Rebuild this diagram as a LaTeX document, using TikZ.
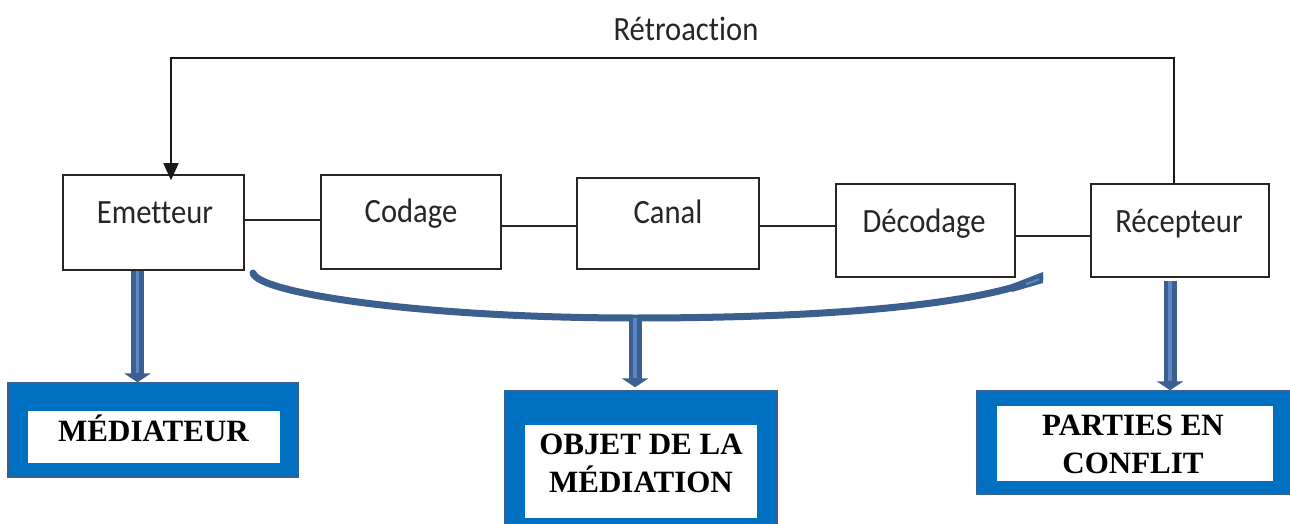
\documentclass[tikz,border=0pt]{standalone}
\usepackage{fontspec}
\newfontfamily\cali[FakeStretch=0.9,Ligatures=NoCommon]{Carlito}
\newfontfamily\tnr{Liberation Serif}
\usetikzlibrary{arrows.meta,calc}
\definecolor{bdark}{HTML}{3B5F8F}
\definecolor{blight}{HTML}{5A88C2}
\definecolor{bfill}{HTML}{0070C0}
\newcommand\bluearr[2]{%
  \draw[line width=13pt, bdark] (#1) -- ($(#2)+(0,-8)$);
  \draw[line width=3.5pt, blight] (#1) -- ($(#2)+(0,-9)$);
  \fill[bdark] ($(#2)+(-13.5,-9)$) -- ($(#2)+(13.5,-9)$) -- (#2) -- cycle;}
\begin{document}
\begin{tikzpicture}[x=1pt,y=-1pt,
  box/.style={draw=black!85, line width=1.6pt, inner sep=0pt, fill=white},
  lbl/.style={font=\cali\fontsize{34}{40}\selectfont, text=black!85, anchor=base, inner sep=0pt},
  outerbox/.style={draw=bdark, line width=1.5pt, fill=bfill, inner sep=0pt},
  innerbox/.style={fill=white, draw=none, inner sep=0pt},
  big/.style={font=\tnr\bfseries\fontsize{31}{38}\selectfont, align=center, inner sep=0pt},
  link/.style={draw=black!85, line width=1.6pt},
  fb/.style={draw=black!90, line width=1.6pt, -{Triangle[length=17pt,width=15pt]}},
  brace/.style={draw=bdark, line width=7pt, line cap=round}
  ]
\useasboundingbox (0,0) rectangle (1290,524);

% process boxes
\node[box, minimum width=181pt, minimum height=95pt] (emet) at (153.5,222.5) {};
\node[box, minimum width=180pt, minimum height=94pt] (cod) at (411,222) {};
\node[box, minimum width=182pt, minimum height=91pt] (can) at (668,223.5) {};
\node[box, minimum width=179pt, minimum height=93pt] (dec) at (925.5,230.5) {};
\node[box, minimum width=178pt, minimum height=93pt] (rec) at (1180,230.5) {};

\node[lbl] (emetT) at (155,223) {Emetteur};
\node[lbl] (codT) at (411,222) {Codage};
\node[lbl] (canT) at (668,223) {Canal};
\node[lbl] (decT) at (924,232) {Décodage};
\node[lbl] (recT) at (1179,232) {Récepteur};

% links
\draw[link] ([yshift=2.5pt]emet.east) coordinate (l1) -- (l1 -| cod.west);
\draw[link] ([yshift=-4pt]cod.east) coordinate (l2) -- (l2 -| can.west);
\draw[link] ([yshift=-2.5pt]can.east) coordinate (l3) -- (l3 -| dec.west);
\draw[link] ([yshift=-5.5pt]dec.east) coordinate (l4) -- (l4 -| rec.west);

% feedback
\draw[fb] ([xshift=-6pt]rec.north) -- ++(0,-125) -| ([xshift=17.5pt,yshift=-6pt]emet.north);
\node[lbl] (retro) at (686,41) {Rétroaction};

% blue boxes
\node[outerbox, minimum width=290pt, minimum height=94pt] (med) at (153,430) {};
\node[innerbox, minimum width=252pt, minimum height=52pt] (medin) at (154,437) {};
\node[big, anchor=base] (medT) at (153.5,441) {MÉDIATEUR};

\node[outerbox, minimum width=272pt, minimum height=144pt] (obj) at (641,463) {};
\node[innerbox, minimum width=232pt, minimum height=93pt] (objin) at (641,471.5) {};
\node[big] (objT) at (641,463) {OBJET DE LA\\MÉDIATION};

\node[outerbox, minimum width=318pt, minimum height=103pt] (par) at (1136,442.5) {};
\node[innerbox, minimum width=276pt, minimum height=75pt] (parin) at (1135,443.5) {};
\node[big] (parT) at (1133,444) {PARTIES EN\\CONFLIT};

% brace
\coordinate (cL) at (253,273);
\coordinate (bmid) at (635,318);
\coordinate (cR) at (1040,278);
\draw[brace] (cL) .. controls (258,293) and (420,318) .. (bmid) .. controls (850,318) and (985,302) .. (cR);
\fill[bdark] (1012,284) -- (1043,272) -- (1043,283) -- (1012,292) -- cycle;
\draw[blight, line width=2pt] (1026,284) -- (1039,279.5);

% blue arrows
\coordinate (a1s) at ([xshift=-16pt]emet.south);
\coordinate (a1e) at (a1s |- med.north);
\bluearr{a1s}{a1e}
\coordinate (a2e) at ($(bmid |- obj.north)+(0,-3)$);
\bluearr{bmid}{a2e}
\coordinate (a3s) at ([xshift=-10pt,yshift=-3pt]rec.south);
\coordinate (a3e) at (a3s |- par.north);
\bluearr{a3s}{a3e}
\end{tikzpicture}
\end{document}
